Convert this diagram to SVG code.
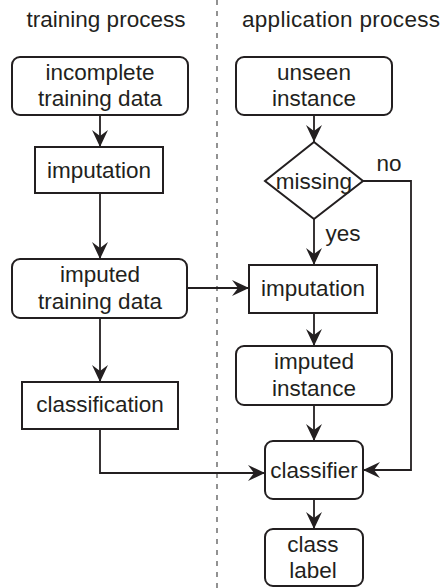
<svg xmlns="http://www.w3.org/2000/svg" width="447" height="588" viewBox="0 0 447 588">
<defs>
<marker id="ah" markerUnits="userSpaceOnUse" markerWidth="17" markerHeight="16" viewBox="0 0 17 16" refX="17" refY="8" orient="auto">
<path d="M0,0 L17,8 L0,16 L6,8 z" fill="#231f20"/>
</marker>
<style>
.box{fill:#fff;stroke:#231f20;stroke-width:2}
.t{font-family:"Liberation Sans",Arial,sans-serif;font-size:22.5px;fill:#231f20;text-anchor:middle}
.c{fill:none;stroke:#231f20;stroke-width:1.8}
.a{marker-end:url(#ah)}
</style>
</defs>
<rect width="447" height="588" fill="#fff"/>
<line x1="217" y1="0" x2="217" y2="588" stroke="#777" stroke-width="1.6" stroke-dasharray="5,6"/>
<text class="t" x="106" y="27">training process</text>
<text class="t" x="341" y="27" textLength="198" lengthAdjust="spacing">application process</text>

<g id="connectors">
<line class="c a" x1="100" y1="115" x2="100" y2="147"/>
<line class="c a" x1="100" y1="193" x2="100" y2="259"/>
<line class="c a" x1="100" y1="318" x2="100" y2="382"/>
<polyline class="c a" points="100,429 100,473 265,473"/>
<line class="c a" x1="187" y1="288" x2="249" y2="288"/>
<line class="c a" x1="314" y1="115" x2="314" y2="142"/>
<line class="c a" x1="314" y1="219" x2="314" y2="265"/>
<line class="c a" x1="314" y1="313" x2="314" y2="346"/>
<line class="c a" x1="314" y1="405" x2="314" y2="441"/>
<line class="c a" x1="314" y1="499" x2="314" y2="529"/>
<polyline class="c a" points="363,181 411,181 411,470 363,470"/>
<text class="t" x="389" y="171">no</text>
<text class="t" x="343" y="241">yes</text>
</g>

<g id="n-incomplete">
<rect class="box" x="12" y="57" width="176" height="58" rx="8"/>
<text class="t" x="100" y="80">incomplete</text>
<text class="t" x="100" y="106">training data</text>
</g>
<g id="n-imputation-train">
<rect class="box" x="35" y="147" width="128" height="46"/>
<text class="t" x="99" y="178">imputation</text>
</g>
<g id="n-imputed-training">
<rect class="box" x="12" y="259" width="175" height="59" rx="8"/>
<text class="t" x="100" y="282">imputed</text>
<text class="t" x="100" y="309">training data</text>
</g>
<g id="n-classification">
<rect class="box" x="22" y="382" width="156" height="47"/>
<text class="t" x="100" y="412">classification</text>
</g>
<g id="n-unseen">
<rect class="box" x="236" y="57" width="156" height="58" rx="8"/>
<text class="t" x="314" y="80">unseen</text>
<text class="t" x="314" y="106">instance</text>
</g>
<g id="n-missing">
<polygon class="box" points="314,142 363,181 314,219 265,181"/>
<text class="t" x="314" y="189">missing</text>
</g>
<g id="n-imputation-app">
<rect class="box" x="249" y="265" width="128" height="48"/>
<text class="t" x="313" y="296">imputation</text>
</g>
<g id="n-imputed-instance">
<rect class="box" x="236" y="346" width="156" height="59" rx="8"/>
<text class="t" x="314" y="369">imputed</text>
<text class="t" x="314" y="396">instance</text>
</g>
<g id="n-classifier">
<rect class="box" x="265" y="441" width="98" height="58" rx="8"/>
<text class="t" x="314" y="478">classifier</text>
</g>
<g id="n-class-label">
<rect class="box" x="265" y="529" width="98" height="57" rx="8"/>
<text class="t" x="313" y="552">class</text>
<text class="t" x="313" y="578">label</text>
</g>
</svg>
